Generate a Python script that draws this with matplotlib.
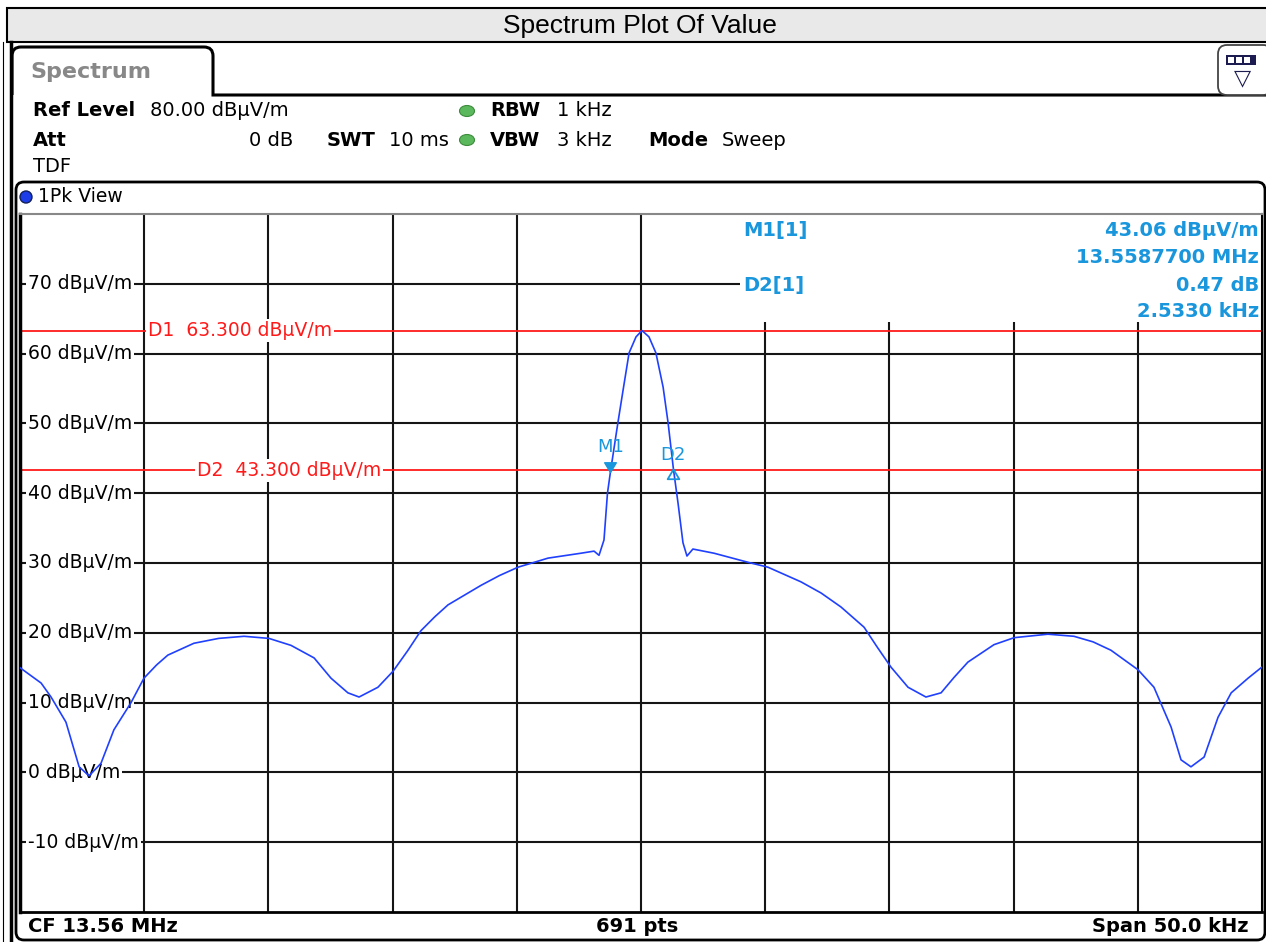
import numpy as np
import matplotlib.pyplot as plt
from matplotlib.patches import Rectangle, FancyBboxPatch, Ellipse, Circle, PathPatch
from matplotlib.path import Path

# trace of the spectrum, frequency as offset from CF in kHz
freq_khz = [-25.0, -24.15, -23.75, -23.15, -22.62, -22.22, -21.74, -21.22, -20.53, -20.01,
            -19.5, -19.05, -18.0, -17.0, -15.98, -14.98, -14.09, -13.16, -12.48, -11.8,
            -11.35, -10.59, -9.98, -9.38, -8.86, -8.3, -7.77, -6.44, -5.7, -4.95,
            -3.74, -2.42, -1.89, -1.69, -1.49, -1.35, -1.23, -0.93, -0.72, -0.48,
            -0.2, 0.04, 0.32, 0.6, 0.89, 1.09, 1.303, 1.49, 1.69, 1.85,
            2.09, 2.94, 4.31, 5.11, 6.44, 7.25, 8.05, 8.98, 9.5, 10.06,
            10.75, 11.47, 12.08, 12.6, 13.16, 14.21, 15.02, 16.38, 17.43, 18.2,
            18.92, 20.01, 20.65, 21.34, 21.74, 22.14, 22.67, 23.23, 23.76, 24.44,
            25.0]
level_dbuv = [15.0, 12.8, 10.8, 7.2, 0.8, -0.5, 1.3, 6.1, 10.0, 13.5,
              15.4, 16.8, 18.5, 19.2, 19.5, 19.2, 18.2, 16.4, 13.5, 11.4,
              10.8, 12.2, 14.5, 17.5, 20.3, 22.3, 24.0, 26.8, 28.2, 29.4,
              30.7, 31.4, 31.7, 31.1, 33.3, 40.0, 43.06, 50.1, 54.8, 60.1,
              62.4, 63.3, 62.4, 60.1, 55.2, 50.1, 43.53, 38.6, 32.9, 31.0,
              32.0, 31.4, 30.1, 29.4, 27.3, 25.7, 23.7, 20.8, 18.0, 15.1,
              12.2, 10.8, 11.4, 13.6, 15.8, 18.3, 19.3, 19.8, 19.5, 18.7,
              17.5, 14.7, 12.2, 6.5, 1.8, 0.8, 2.2, 7.9, 11.4, 13.5,
              15.1]

center_mhz = 13.56
span_khz = 50.0
ref_level = 80.0
n_points = 691
y_ticks = [70, 60, 50, 40, 30, 20, 10, 0, -10]

d1_level = 63.3
d2_level = 43.3

m1_freq_mhz = 13.5587700
m1_level = 43.06
d2_delta_db = 0.47
d2_delta_khz = 2.5330

mk_blue = '#1a96dc'
tr_blue = '#2040ff'
red = '#ff1a1a'
font = 'DejaVu Sans'

fig = plt.figure(figsize=(12.66, 9.42), dpi=100)

# background layer in pixel coordinates
bg = fig.add_axes([0, 0, 1, 1])
bg.set_xlim(0, 1266)
bg.set_ylim(942, 0)
bg.axis('off')

bg.add_patch(Rectangle((7, 8), 1262, 34, fc='#e9e9e9', ec='black', lw=1.5))
bg.text(640, 26, 'Spectrum Plot Of Value', ha='center', va='center',
        fontsize=19, family='Liberation Sans')
bg.plot([3, 3], [42, 942], color='black', lw=0.8)
bg.plot([11, 11], [42, 942], color='black', lw=2.5)

# tab
tab = Path([(12, 95), (12, 56), (12, 47), (21, 47), (204, 47), (213, 47), (213, 56),
            (213, 95), (1270, 95)],
           [Path.MOVETO, Path.LINETO, Path.CURVE3, Path.CURVE3, Path.LINETO,
            Path.CURVE3, Path.CURVE3, Path.LINETO, Path.LINETO])
bg.add_patch(PathPatch(tab, fc='none', ec='black', lw=2.2))
bg.text(30, 72, 'Spectrum', va='center', fontsize=16, fontweight='bold',
        color='#888888', family=font)

# menu icon at top right
bg.add_patch(FancyBboxPatch((1218, 45), 54, 50, boxstyle='round,pad=0,rounding_size=9',
                            fc='white', ec='#444444', lw=1.3))
bg.add_patch(Rectangle((1226, 55), 30, 10, fc='#1c1c50', ec='none'))
for sx in [1228, 1236, 1244]:
    bg.add_patch(Rectangle((sx, 57), 6, 6, fc='white', ec='none'))
bg.text(1242, 78, '▽', ha='center', va='center', fontsize=16, color='#1c1c50', family=font)

# settings block
hs = 14
bg.text(33, 111, 'Ref Level', va='center', fontsize=hs, fontweight='bold', family=font)
bg.text(150, 111, f'{ref_level:.2f} dBµV/m', va='center', fontsize=hs, family=font)
bg.text(33, 140, 'Att', va='center', fontsize=hs, fontweight='bold', family=font)
bg.text(293, 140, '0 dB', ha='right', va='center', fontsize=hs, family=font)
bg.text(327, 140, 'SWT', va='center', fontsize=hs, fontweight='bold', family=font)
bg.text(389, 140, '10 ms', va='center', fontsize=hs, family=font)
bg.text(33, 166, 'TDF', va='center', fontsize=hs, family=font)
for yy, name, val in [(111, 'RBW', '1 kHz'), (140, 'VBW', '3 kHz')]:
    bg.add_patch(Ellipse((467, yy), 15, 11, fc='#5cb85c', ec='#3d8b3d', lw=0.8))
    bg.text(490, yy, name, va='center', fontsize=hs, fontweight='bold', family=font)
    bg.text(557, yy, val, va='center', fontsize=hs, family=font)
bg.text(648, 140, 'Mode', va='center', fontsize=hs, fontweight='bold', family=font)
bg.text(722, 140, 'Sweep', va='center', fontsize=hs, family=font)

# window frame
bg.add_patch(FancyBboxPatch((16, 182), 1249, 758, boxstyle='round,pad=0,rounding_size=8',
                            fc='white', ec='black', lw=2))
bg.add_patch(Circle((26, 197), 6, fc='#1d3de8', ec='#10205a', lw=1))
bg.text(38, 197, '1Pk View', va='center', fontsize=13.5, family=font)

# footer
bg.text(28, 926, f'CF {center_mhz:.2f} MHz', va='center', fontsize=14, fontweight='bold', family=font)
bg.text(637, 926, f'{n_points} pts', ha='center', va='center', fontsize=14, fontweight='bold', family=font)
bg.text(1248, 926, f'Span {span_khz:.1f} kHz', ha='right', va='center', fontsize=14,
        fontweight='bold', family=font)

# diagram
ax = fig.add_axes([20 / 1266, 1 - 912 / 942, 1242 / 1266, 698 / 942])
ax.set_xlim(-span_khz / 2, span_khz / 2)
ax.set_ylim(ref_level - 100, ref_level)
ax.set_xticks(np.arange(-20, 21, 5))
ax.set_yticks(y_ticks)
ax.tick_params(length=0, labelleft=False, labelbottom=False)
ax.set_axisbelow(True)
ax.grid(color='#151515', lw=1.5)
ax.spines['left'].set_linewidth(2.5)
ax.spines['top'].set_color('#888888')
ax.spines['top'].set_linewidth(1.5)
ax.spines['right'].set_linewidth(1.5)
ax.spines['bottom'].set_linewidth(2)

ytr = ax.get_yaxis_transform()
for v in y_ticks:
    ax.text(0.0064, v, f'{v} dBµV/m', va='center', fontsize=13.5, family=font, transform=ytr,
            zorder=2.5, bbox=dict(fc='white', ec='none', pad=1.5))

# display lines
for lvl, name, xpos in [(d1_level, 'D1', 0.103), (d2_level, 'D2', 0.1425)]:
    ax.axhline(lvl, color=red, lw=1.3, zorder=2)
    ax.text(xpos, lvl, f'{name}  {lvl:.3f} dBµV/m', va='center', color=red, fontsize=13.5,
            family=font, transform=ytr, zorder=2.5, bbox=dict(fc='white', ec='none', pad=1.5))

# marker table
m1_x = (m1_freq_mhz - center_mhz) * 1000
d2_x = m1_x + d2_delta_khz
d2_y = m1_level + d2_delta_db
ax.add_patch(Rectangle((4.0, 64.5), 21.0, 15.5, fc='white', ec='none', zorder=1.2))
rows = [(0.977, 'M1[1]', f'{m1_level:.2f} dBµV/m'),
        (0.938, '', f'{m1_freq_mhz:.7f} MHz'),
        (0.898, 'D2[1]', f'{d2_delta_db:.2f} dB'),
        (0.860, '', f'{d2_delta_khz:.4f} kHz')]
for yy, left, right in rows:
    if left:
        ax.text(0.582, yy, left, va='center', fontsize=14, fontweight='bold', color=mk_blue,
                family=font, transform=ax.transAxes, zorder=3)
    ax.text(0.9976, yy, right, ha='right', va='center', fontsize=14, fontweight='bold',
            color=mk_blue, family=font, transform=ax.transAxes, zorder=3)

# trace
ax.plot(freq_khz, level_dbuv, color=tr_blue, lw=1.2, zorder=3)

# markers, tip of the triangle on the trace
down_tri = Path([(-0.6, 1), (0.6, 1), (0, 0), (-0.6, 1)], closed=True)
up_tri = Path([(-0.6, -1), (0.6, -1), (0, 0), (-0.6, -1)], closed=True)
ax.plot([m1_x], [m1_level], marker=down_tri, ms=14, color=mk_blue, ls='none', zorder=4)
ax.plot([d2_x], [d2_y], marker=up_tri, ms=14, mfc='none', mec=mk_blue, mew=1.3, ls='none', zorder=4)
ax.annotate('M1', (m1_x, m1_level), xytext=(0, 18), textcoords='offset points', ha='center',
            va='center', color=mk_blue, fontsize=13, family=font, zorder=4)
ax.annotate('D2', (d2_x, d2_y), xytext=(0, 10), textcoords='offset points', ha='center',
            va='center', color=mk_blue, fontsize=13, family=font, zorder=4)

fig.savefig('out.png', dpi=100)
